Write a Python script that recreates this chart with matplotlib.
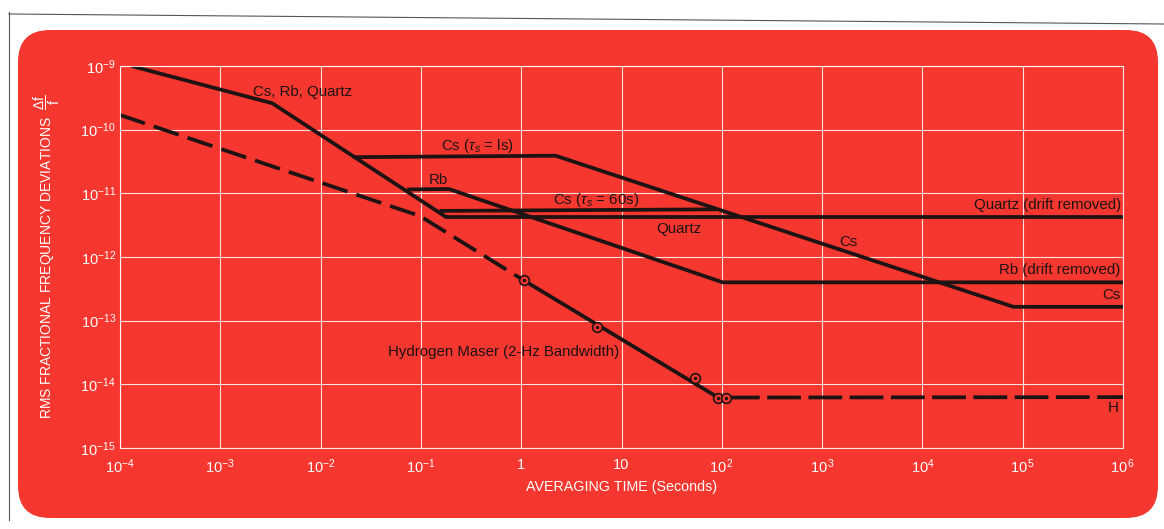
import numpy as np
import matplotlib.pyplot as plt
from matplotlib.patches import FancyBboxPatch

plt.rcParams['font.family'] = ['Liberation Sans', 'DejaVu Sans']
plt.rcParams['mathtext.fontset'] = 'custom'
plt.rcParams['mathtext.rm'] = 'Liberation Sans'
plt.rcParams['mathtext.it'] = 'Liberation Sans:italic'

# values (averaging time in s, fractional deviation)
cs_rb_quartz_tau = [1.3e-4, 3.3e-3, 0.18]
cs_rb_quartz_sig = [1e-9, 2.6e-10, 4.2e-12]

quartz_tau = [0.18, 1e6]
quartz_sig = [4.2e-12, 4.2e-12]

cs_1s_tau = [0.022, 2.2, 8.1e4, 1e6]
cs_1s_sig = [3.7e-11, 3.9e-11, 1.65e-13, 1.65e-13]

cs_60s_tau = [0.16, 85]
cs_60s_sig = [5.3e-12, 5.6e-12]

rb_tau = [0.076, 0.19, 102, 1e6]
rb_sig = [1.15e-11, 1.17e-11, 4.0e-13, 4.0e-13]

h_dash_tau = [1e-4, 0.098, 1.06]
h_dash_sig = [1.7e-10, 4.4e-12, 4.3e-13]
h_solid_tau = [1.06, 92, 110]
h_solid_sig = [4.3e-13, 6.2e-15, 6.2e-15]
h_flat_tau = [110, 1e6]
h_flat_sig = [6.2e-15, 6.3e-15]

h_pts_tau = [1.06, 5.7, 54, 92, 110]
h_pts_sig = [4.3e-13, 7.9e-14, 1.26e-14, 6.2e-15, 6.2e-15]

x_ticks = [1e-4, 1e-3, 1e-2, 1e-1, 1, 10, 1e2, 1e3, 1e4, 1e5, 1e6]
x_labels = [r'$10^{-4}$', r'$10^{-3}$', r'$10^{-2}$', r'$10^{-1}$', '1', '10',
            r'$10^{\,2}$', r'$10^{\,3}$', r'$10^{4}$', r'$10^{\,5}$', r'$10^{\,6}$']
y_ticks = [1e-15, 1e-14, 1e-13, 1e-12, 1e-11, 1e-10, 1e-9]
y_labels = [r'$10^{-15}$', r'$10^{-14}$', r'$10^{-13}$', r'$10^{-12}$',
            r'$10^{-11}$', r'$10^{-10}$', r'$10^{-9}$']

red = '#f5372f'
ink = '#1e1212'
W, H = 1164, 529

fig = plt.figure(figsize=(W / 100, H / 100), dpi=100)
fig.patch.set_facecolor('white')

# background panel in pixel units
bg = fig.add_axes([0, 0, 1, 1])
bg.set_xlim(0, W)
bg.set_ylim(H, 0)
bg.axis('off')
bg.add_patch(FancyBboxPatch((18, 30), 1140, 488, boxstyle='round,pad=0,rounding_size=32',
                            facecolor=red, edgecolor='none'))
bg.plot([9, 9], [12, 520], color='#555555', lw=0.8)
bg.plot([9, W], [14, 24], color='#555555', lw=0.8)

ax = fig.add_axes([120 / W, 1 - 448 / H, 1003 / W, 382 / H])
ax.set_facecolor('none')
ax.set_xscale('log')
ax.set_yscale('log')
ax.set_xlim(1e-4, 1e6)
ax.set_ylim(1e-15, 1e-9)

ax.set_xticks(x_ticks)
ax.set_xticklabels(x_labels)
ax.set_yticks(y_ticks)
ax.set_yticklabels(y_labels)
ax.minorticks_off()
ax.tick_params(length=0, colors='white', labelsize=10.5)
ax.tick_params(axis='x', pad=7)
ax.tick_params(axis='y', pad=3)
ax.grid(True, color='white', lw=0.8, alpha=0.85)
for s in ax.spines.values():
    s.set_color('white')
    s.set_linewidth(0.8)
    s.set_alpha(0.85)

lw = 2.7
ax.plot(cs_rb_quartz_tau, cs_rb_quartz_sig, color=ink, lw=lw, solid_capstyle='butt')
ax.plot(quartz_tau, quartz_sig, color=ink, lw=lw)
ax.plot(cs_1s_tau, cs_1s_sig, color=ink, lw=lw)
ax.plot(cs_60s_tau, cs_60s_sig, color=ink, lw=lw)
ax.plot(rb_tau, rb_sig, color=ink, lw=lw)
ax.plot(h_dash_tau, h_dash_sig, color=ink, lw=lw, dashes=(7, 2.5))
ax.plot(h_solid_tau, h_solid_sig, color=ink, lw=lw)
ax.plot(h_flat_tau, h_flat_sig, color=ink, lw=lw, dashes=(9, 2))
ax.plot(h_pts_tau, h_pts_sig, ls='none', marker='o', ms=7, mfc=red, mec=ink, mew=1.2)
ax.plot(h_pts_tau, h_pts_sig, ls='none', marker='o', ms=1.5, color=ink)

fs = 10.8
ax.text(2.1e-3, 3.9e-10, 'Cs, Rb, Quartz', color=ink, fontsize=fs, va='center')
ax.text(0.16, 5.5e-11, r'Cs ($\tau_s$ = ls)', color=ink, fontsize=fs, va='center')
ax.text(0.12, 1.6e-11, 'Rb', color=ink, fontsize=fs, va='center')
ax.text(2.07, 7.9e-12, r'Cs ($\tau_s$ = 60s)', color=ink, fontsize=fs, va='center')
ax.text(22, 2.8e-12, 'Quartz', color=ink, fontsize=fs, va='center')
ax.text(9.5e5, 6.6e-12, 'Quartz (drift removed)', color=ink, fontsize=fs, va='center', ha='right')
ax.text(1480, 1.7e-12, 'Cs', color=ink, fontsize=fs, va='center')
ax.text(9.5e5, 6.3e-13, 'Rb (drift removed)', color=ink, fontsize=fs, va='center', ha='right')
ax.text(9.5e5, 2.5e-13, 'Cs', color=ink, fontsize=fs, va='center', ha='right')
ax.text(0.047, 3.2e-14, 'Hydrogen Maser (2-Hz Bandwidth)', color=ink, fontsize=fs, va='center')
ax.text(9.0e5, 4.3e-15, 'H', color=ink, fontsize=fs, va='center', ha='right')

ax.set_xlabel('AVERAGING TIME (Seconds)', color='white', fontsize=10.3)
ax.xaxis.set_label_coords(0.5, -0.085)
ax.set_ylabel(r'RMS FRACTIONAL FREQUENCY DEVIATIONS  $\dfrac{\mathrm{\Delta f}}{\mathrm{f}}$',
              color='white', fontsize=10)
ax.yaxis.set_label_coords(-0.058, 0.5)

fig.savefig('out.png', dpi=100)
